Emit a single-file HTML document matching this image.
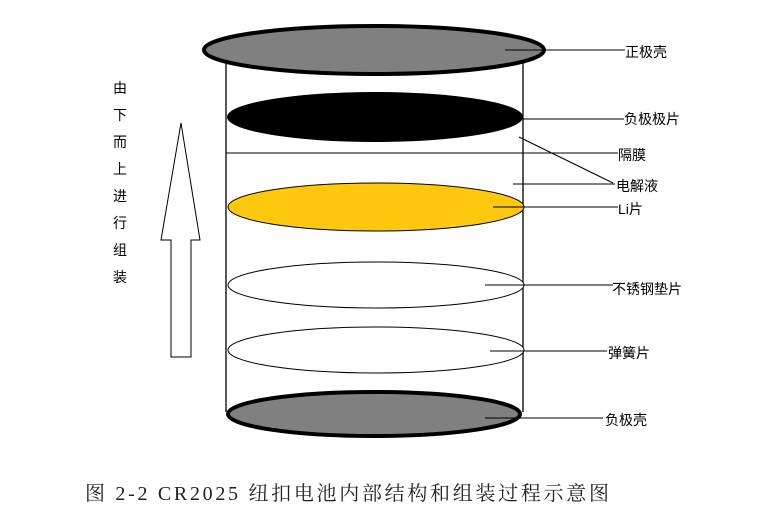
<!DOCTYPE html>
<html><head><meta charset="utf-8"><style>
html,body{margin:0;padding:0;background:#fff;width:784px;height:510px;overflow:hidden}
svg{display:block}
.l{font-family:"Liberation Sans","Noto Sans CJK SC",sans-serif;font-size:14px;fill:#000}
.v{font-family:"Liberation Sans","Noto Sans CJK SC",sans-serif;font-size:14px;fill:#000}
.c{font-family:"Liberation Serif","Noto Serif CJK SC",serif;font-size:20px;fill:#222;letter-spacing:2.7px}
</style></head><body>
<svg width="784" height="510" viewBox="0 0 784 510">
<line x1="226" y1="60" x2="226" y2="412" stroke="#000" stroke-width="1.3"/>
<line x1="523" y1="60" x2="523" y2="412" stroke="#000" stroke-width="1.3"/>
<ellipse cx="374" cy="50" rx="170" ry="24" fill="#808080" stroke="#000" stroke-width="4"/>
<line x1="505" y1="50" x2="625" y2="50" stroke="#000"/>
<ellipse cx="375" cy="117" rx="148" ry="25" fill="#000"/>
<line x1="522" y1="119" x2="624" y2="119" stroke="#000"/>
<line x1="226" y1="153" x2="618" y2="153" stroke="#000"/>
<line x1="519" y1="137" x2="613" y2="183" stroke="#000"/>
<line x1="513" y1="184" x2="615" y2="184" stroke="#000"/>
<ellipse cx="376" cy="207" rx="148" ry="24" fill="#fec80e" stroke="#000" stroke-width="1"/>
<line x1="493" y1="207" x2="618" y2="207" stroke="#000"/>
<ellipse cx="376" cy="285" rx="148" ry="23" fill="#fff" stroke="#000" stroke-width="1"/>
<line x1="485" y1="285" x2="613" y2="285" stroke="#000"/>
<ellipse cx="376" cy="350" rx="148" ry="23" fill="#fff" stroke="#000" stroke-width="1"/>
<line x1="490" y1="351" x2="607" y2="351" stroke="#000"/>
<ellipse cx="374" cy="414" rx="146" ry="22" fill="#808080" stroke="#000" stroke-width="4"/>
<line x1="485" y1="418" x2="603" y2="418" stroke="#000"/>
<text class="l" x="625" y="57">正极壳</text>
<text class="l" x="624" y="124">负极极片</text>
<text class="l" x="618" y="160">隔膜</text>
<text class="l" x="616" y="191">电解液</text>
<text class="l" x="618" y="214">Li片</text>
<text class="l" x="612" y="294">不锈钢垫片</text>
<text class="l" x="608" y="358">弹簧片</text>
<text class="l" x="605" y="425">负极壳</text>
<g class="v">
<text x="113" y="93">由</text><text x="113" y="120">下</text><text x="113" y="147">而</text>
<text x="113" y="174">上</text><text x="113" y="201">进</text><text x="113" y="228">行</text>
<text x="113" y="255">组</text><text x="113" y="282">装</text>
</g>
<polygon points="181,123 200,240 191,240 191,357 171,357 171,240 161,240" fill="#fff" stroke="#000" stroke-width="1"/>
<text class="c" x="85" y="500">图 2-2 CR2025 纽扣电池内部结构和组装过程示意图</text>
</svg>
</body></html>
